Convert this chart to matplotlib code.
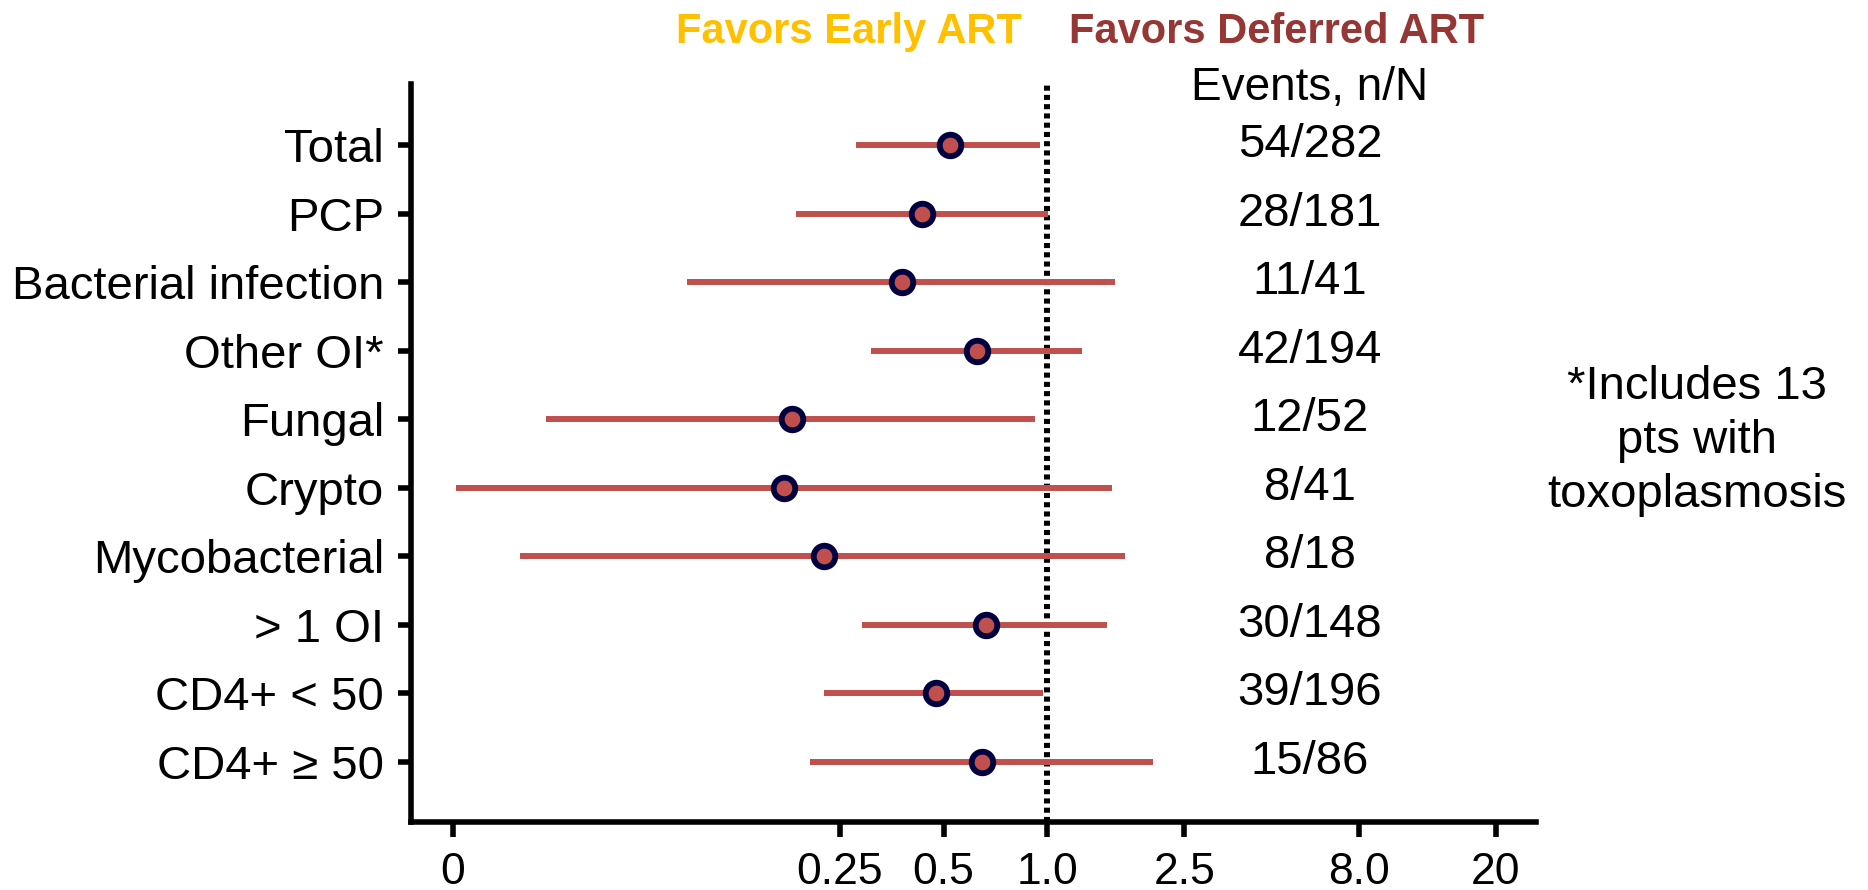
import numpy as np
import matplotlib
matplotlib.use("Agg")
import matplotlib.pyplot as plt
import matplotlib.ticker as mticker

plt.rcParams['font.family'] = ['Liberation Sans', 'DejaVu Sans']

# subgroup data (hazard ratio, 95% CI)
groups = ["Total", "PCP", "Bacterial infection", "Other OI*", "Fungal",
          "Crypto", "Mycobacterial", "> 1 OI", "CD4+ < 50", "CD4+ \u2265 50"]
hr = [0.52, 0.434, 0.379, 0.626, 0.182, 0.172, 0.224, 0.665, 0.476, 0.648]
ci_lo = [0.279, 0.186, 0.090, 0.308, 0.0351, 0.0192, 0.0295, 0.290, 0.225, 0.204]
ci_hi = [0.954, 1.007, 1.575, 1.26, 0.923, 1.544, 1.684, 1.49, 0.974, 2.02]
events = ["54/282", "28/181", "11/41", "42/194", "12/52",
          "8/41", "8/18", "30/148", "39/196", "15/86"]

xticks = [0.0188, 0.25, 0.5, 1.0, 2.5, 8.0, 20]
xticklabels = ["0", "0.25", "0.5", "1.0", "2.5", "8.0", "20"]

RED = "#C0504D"
NAVY = "#000040"

fig = plt.figure(figsize=(18.68, 8.9), dpi=100)
ax = fig.add_axes([0.2200, 0.0760, 0.6023, 0.8296])

y = np.arange(1, len(groups) + 1)
ax.hlines(y, ci_lo, ci_hi, color=RED, lw=4.3, zorder=2)
ax.plot(hr, y, 'o', ms=15.5, mfc=RED, mec=NAVY, mew=4.2, zorder=3, ls='none')
ax.axvline(1.0, color='black', lw=4.3, ls=(0, (0.85, 0.7)), zorder=1)

ax.set_xscale('log')
ax.set_xlim(0.01422, 26.2)
ax.set_ylim(10.88, 0.11)
ax.xaxis.set_major_locator(mticker.FixedLocator(xticks))
ax.xaxis.set_minor_locator(mticker.NullLocator())
ax.set_xticklabels(xticklabels)
ax.set_yticks(y)
ax.set_yticklabels(groups)

for s in ['top', 'right']:
    ax.spines[s].set_visible(False)
for s in ['left', 'bottom']:
    ax.spines[s].set_linewidth(4)
ax.tick_params(axis='both', width=4, color='black')
ax.tick_params(axis='x', length=11, pad=10, labelsize=32)
ax.tick_params(axis='y', length=9.5, pad=10, labelsize=34)

# events column
for yi, ev in zip(y, events):
    ax.text(0.799, yi, ev, transform=ax.get_yaxis_transform(),
            ha='center', va='center', fontsize=34, clip_on=False)
fig.text(1310 / 1868, 0.8876, "Events, n/N", ha='center', va='baseline', fontsize=33)

# header
fig.text(1022 / 1868, 0.952, "Favors Early ART", ha='right', va='baseline',
         fontsize=30, fontweight='bold', color='#FFC000')
fig.text(1069 / 1868, 0.952, "Favors Deferred ART", ha='left', va='baseline',
         fontsize=30, fontweight='bold', color='#953735')

# footnote
fig.text(1697 / 1868, 1 - 441 / 890, "*Includes 13\npts with\ntoxoplasmosis",
         ha='center', va='center', fontsize=34, linespacing=1.3,
         multialignment='center')

fig.savefig("out.png", dpi=100)
